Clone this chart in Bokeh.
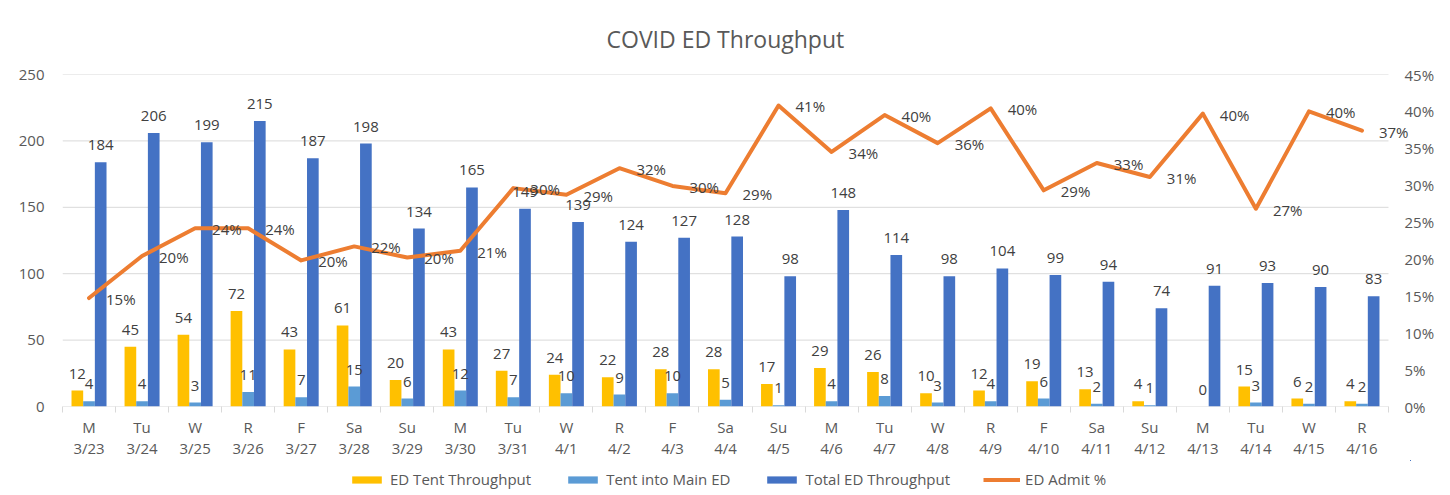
from bokeh.plotting import figure
from bokeh.models import (ColumnDataSource, LinearAxis, Range1d, FixedTicker,
                          NumeralTickFormatter, LabelSet, Legend, LegendItem)
from bokeh.core.properties import value
from bokeh.transform import dodge
from bokeh.layouts import column
from bokeh.embed import file_html
from bokeh.resources import INLINE

days = ["M", "Tu", "W", "R", "F", "Sa", "Su", "M", "Tu", "W", "R", "F", "Sa",
        "Su", "M", "Tu", "W", "R", "F", "Sa", "Su", "M", "Tu", "W", "R"]
dates = ["3/23", "3/24", "3/25", "3/26", "3/27", "3/28", "3/29", "3/30", "3/31",
         "4/1", "4/2", "4/3", "4/4", "4/5", "4/6", "4/7", "4/8", "4/9", "4/10",
         "4/11", "4/12", "4/13", "4/14", "4/15", "4/16"]
tent = [12, 45, 54, 72, 43, 61, 20, 43, 27, 24, 22, 28, 28, 17, 29, 26, 10, 12,
        19, 13, 4, 0, 15, 6, 4]
tent_main = [4, 4, 3, 11, 7, 15, 6, 12, 7, 10, 9, 10, 5, 1, 4, 8, 3, 4, 6, 2, 1,
             0, 3, 2, 2]
total = [184, 206, 199, 215, 187, 198, 134, 165, 149, 139, 124, 127, 128, 98, 148,
         114, 98, 104, 99, 94, 74, 91, 93, 90, 83]
admit = [0.147, 0.204, 0.2415, 0.2415, 0.198, 0.217, 0.202, 0.211, 0.296, 0.287,
         0.323, 0.299, 0.289, 0.408, 0.345, 0.395, 0.357, 0.404, 0.293, 0.330,
         0.311, 0.397, 0.268, 0.400, 0.374]
left_ticks = [0, 50, 100, 150, 200, 250]
right_ticks = [0.0, 0.05, 0.10, 0.15, 0.20, 0.25, 0.30, 0.35, 0.40, 0.45]
series_names = ["ED Tent Throughput", "Tent into Main ED", "Total ED Throughput",
                "ED Admit %"]

FONT = "Open Sans"
GRAY = "#595959"
LBL = "#404040"
GRID = "#d9d9d9"
C_TENT, C_MAIN, C_TOTAL, C_LINE = "#FFC000", "#5B9BD5", "#4472C4", "#ED7D31"

n = len(days)
xs = list(range(n))
CAT_PX = 1326 / n          # pixel width of one category
EXTRA_PX = 22              # extra room on the right so the last label shows
EXTRA = EXTRA_PX / CAT_PX

src = ColumnDataSource(dict(
    x=xs, tent=tent, main=tent_main, total=total, admit=admit,
    main_s=[str(v) for v in tent_main],
    total_s=[str(v) for v in total],
    admit_s=["%d%%" % round(v * 100) for v in admit],
))
tent_idx = [i for i in xs if tent[i] > 0]
src_tent = ColumnDataSource(dict(x=tent_idx, tent=[tent[i] for i in tent_idx],
                                 tent_s=[str(tent[i]) for i in tent_idx]))
grid_src = ColumnDataSource(dict(x0=[-0.5] * len(left_ticks),
                                 x1=[n - 0.5] * len(left_ticks),
                                 y=left_ticks))

p = figure(frame_width=1326 + EXTRA_PX, frame_height=332, output_backend="svg",
           toolbar_location=None,
           x_range=Range1d(-0.5, n - 0.5 + EXTRA), y_range=Range1d(0, 250),
           min_border_left=62, min_border_right=1450 - 62 - 1326 - EXTRA_PX,
           min_border_top=74, min_border_bottom=50,
           title="COVID ED Throughput")
p.extra_y_ranges = {"pct": Range1d(0, 0.45)}
p.outline_line_color = None
p.background_fill_color = "white"
p.border_fill_color = "white"

p.title.align = "left"
p.title.offset = 544
p.title.text_font = FONT
p.title.text_font_size = "23px"
p.title.text_font_style = "normal"
p.title.text_color = GRAY
p.title.standoff = 39

# gridlines (over the category span only)
p.xgrid.visible = False
p.ygrid.visible = False
p.segment(x0="x0", x1="x1", y0="y", y1="y", source=grid_src,
          line_color=GRID, line_width=1)

# bars
b1 = p.vbar(x=dodge("x", -0.22, range=p.x_range), top="tent", width=0.22,
            source=src, fill_color=C_TENT, line_color=None)
b2 = p.vbar(x="x", top="main", width=0.22, source=src, fill_color=C_MAIN,
            line_color=None)
b3 = p.vbar(x=dodge("x", 0.22, range=p.x_range), top="total", width=0.22,
            source=src, fill_color=C_TOTAL, line_color=None)
ln = p.line(x="x", y="admit", source=src, y_range_name="pct", color=C_LINE,
            line_width=4, line_join="round", line_cap="round")

# x axes: weekday row, then date row
xa = p.xaxis[0]
xa.ticker = FixedTicker(ticks=xs, minor_ticks=[i - 0.5 for i in range(n + 1)])
xa.major_label_overrides = {i: days[i] for i in xs}
xa.axis_line_color = None
xa.major_tick_line_color = None
xa.major_tick_out = 0
xa.major_tick_in = 0
xa.minor_tick_line_color = GRID
xa.minor_tick_out = 6
xa.minor_tick_in = 0
xa.major_label_text_font = FONT
xa.major_label_text_font_size = "15px"
xa.major_label_text_color = GRAY
xa.major_label_standoff = 4

xa2 = LinearAxis(ticker=FixedTicker(ticks=xs))
xa2.major_label_overrides = {i: dates[i] for i in xs}
xa2.axis_line_color = None
xa2.major_tick_line_color = None
xa2.minor_tick_line_color = None
xa2.major_tick_out = 0
xa2.major_tick_in = 0
xa2.minor_tick_out = 0
xa2.minor_tick_in = 0
xa2.major_label_text_font = FONT
xa2.major_label_text_font_size = "15px"
xa2.major_label_text_color = GRAY
xa2.major_label_standoff = -2
p.add_layout(xa2, "below")

ya = p.yaxis[0]
ya.ticker = FixedTicker(ticks=left_ticks)
ya.axis_line_color = None
ya.major_tick_line_color = None
ya.minor_tick_line_color = None
ya.major_label_text_font = FONT
ya.major_label_text_font_size = "15px"
ya.major_label_text_color = GRAY
ya.major_label_standoff = 12

ra = LinearAxis(y_range_name="pct", ticker=FixedTicker(ticks=right_ticks),
                formatter=NumeralTickFormatter(format="0%"))
ra.axis_line_color = None
ra.major_tick_line_color = None
ra.minor_tick_line_color = None
ra.major_tick_out = 0
ra.major_tick_in = 0
ra.minor_tick_out = 0
ra.major_label_text_font = FONT
ra.major_label_text_font_size = "15px"
ra.major_label_text_color = GRAY
ra.major_label_standoff = 16 - EXTRA_PX
p.add_layout(ra, "right")

# data labels
common = dict(text_font=value(FONT), text_font_size="15px", text_color=LBL,
              text_align="center", text_baseline="middle", y_offset=17)
p.add_layout(LabelSet(x=dodge("x", -0.22, range=p.x_range), y="tent",
                      text="tent_s", source=src_tent, **common))
p.add_layout(LabelSet(x="x", y="main", text="main_s", source=src, **common))
p.add_layout(LabelSet(x=dodge("x", 0.22, range=p.x_range), y="total",
                      text="total_s", source=src, **common))
p.add_layout(LabelSet(x="x", y="admit", text="admit_s", source=src,
                      y_range_name="pct", text_font=value(FONT),
                      text_font_size="15px", text_color=LBL, text_align="left",
                      text_baseline="middle", x_offset=17, y_offset=-1))

# legend strip (a second, axis-less figure under the chart); its renderers use
# the same data but lie outside the strip's visible range, so only the legend shows
LEG_H = 39
q = figure(width=1450, height=LEG_H, output_backend="svg", toolbar_location=None,
           x_range=Range1d(-1000, -999), y_range=Range1d(-1000, -999),
           x_axis_location=None, y_axis_location=None,
           min_border_left=0, min_border_right=0, min_border_top=0,
           min_border_bottom=0)
q.outline_line_color = None
q.xgrid.visible = False
q.ygrid.visible = False
q.background_fill_color = "white"
q.border_fill_color = "white"
r1 = q.vbar(x="x", top="tent", width=0.22, source=src, fill_color=C_TENT,
            line_color=None)
r2 = q.vbar(x="x", top="main", width=0.22, source=src, fill_color=C_MAIN,
            line_color=None)
r3 = q.vbar(x="x", top="total", width=0.22, source=src, fill_color=C_TOTAL,
            line_color=None)
r4 = q.line(x="x", y="admit", source=src, color=C_LINE, line_width=4)

legend = Legend(items=[LegendItem(label=s, renderers=[r])
                       for s, r in zip(series_names, [r1, r2, r3, r4])],
                orientation="horizontal", location=(286, 10))
legend.label_text_font = FONT
legend.label_text_font_size = "15px"
legend.label_text_color = GRAY
legend.glyph_width = 37
legend.glyph_height = 9
legend.label_standoff = 5
legend.spacing = 33
legend.padding = 0
legend.margin = 0
legend.border_line_color = None
legend.background_fill_alpha = 0
q.add_layout(legend)

layout = column(p, q, spacing=0)
open("out.html", "w").write(file_html(layout, INLINE))
